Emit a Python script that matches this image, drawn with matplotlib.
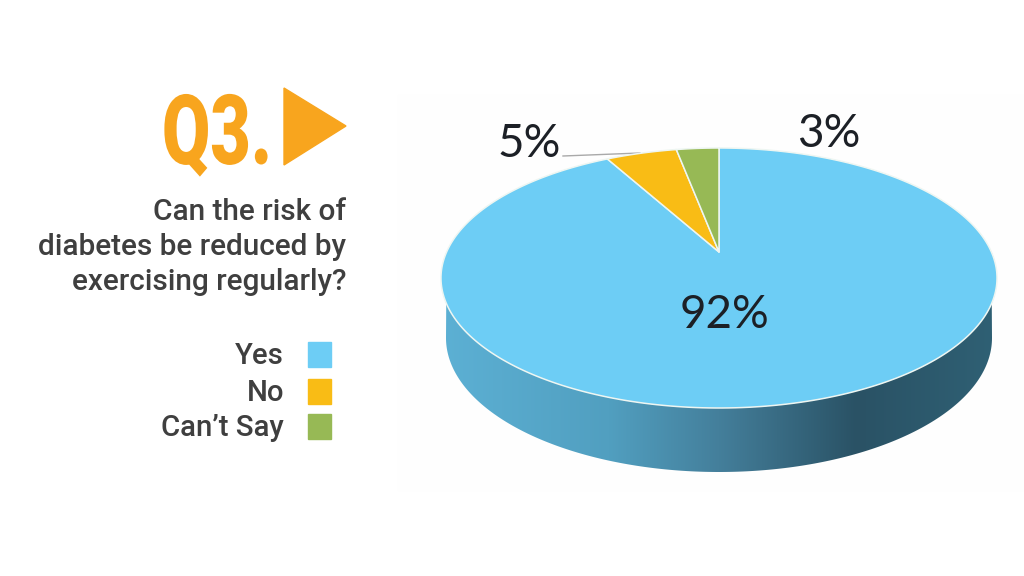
import numpy as np
import matplotlib
matplotlib.use("Agg")
import matplotlib.pyplot as plt
from matplotlib.colors import LinearSegmentedColormap
from matplotlib.patches import Polygon, Rectangle
from matplotlib.patheffects import AbstractPathEffect
from matplotlib.transforms import Affine2D

categories = ["Yes", "No", "Can\u2019t Say"]
values = [92, 5, 3]
value_labels = ["92%", "5%", "3%"]
colors = ["#6dcdf5", "#f9bc15", "#97b955"]
question = "Can the risk of\ndiabetes be reduced by\nexercising regularly?"

# pie geometry in pixels, the tilt makes the far side shorter
APEX = (719, 252)
TILT = 0.2
SCALE_X = 272.4
SCALE_Y = 124.8


def project(theta):
    # theta is clockwise from 12 o'clock
    u, v = np.sin(theta), np.cos(theta)
    w = 1 + TILT * v
    return APEX[0] + SCALE_X * u / w, APEX[1] - SCALE_Y * v / w


class SqueezeX(AbstractPathEffect):
    # no condensed heavy font is installed, so narrow the glyphs when drawing
    def __init__(self, x0, factor):
        super().__init__()
        self.x0 = x0
        self.factor = factor

    def draw_path(self, renderer, gc, tpath, affine, rgbFace=None):
        squeeze = Affine2D().translate(-self.x0, 0).scale(self.factor, 1).translate(self.x0, 0)
        renderer.draw_path(gc, tpath, affine + squeeze, rgbFace)


fig = plt.figure(figsize=(10.24, 5.76), dpi=100)
ax = fig.add_axes([0, 0, 1, 1])
ax.set_xlim(0, 1024)
ax.set_ylim(576, 0)
ax.axis("off")

ax.add_patch(Rectangle((398, 95), 626, 395, color="#fefefe", zorder=0))

# side of the pie, a horizontal gradient clipped to the extruded outline
t = np.linspace(np.pi / 2, 3 * np.pi / 2, 200)
tx, ty = project(t)
bottom_t = np.linspace(np.pi, 0, 200)
bx = 719 + 273 * np.cos(bottom_t)
by = 338 + 134 * np.sin(bottom_t)
outline = np.vstack([np.column_stack([tx, ty]), np.column_stack([bx, by])])
side = Polygon(outline, closed=True, transform=ax.transData, facecolor="none", edgecolor="none")
ax.add_patch(side)
side_cmap = LinearSegmentedColormap.from_list(
    "side",
    [(0.0, "#5cb0d4"), (0.3, "#519fc0"), (0.5, "#447f9b"), (0.75, "#2a5265"), (1.0, "#2f6074")],
)
img = ax.imshow(np.linspace(0, 1, 256)[None, :], cmap=side_cmap, extent=(443, 995, 480, 250),
                aspect="auto", zorder=1)
img.set_clip_path(side)
ax.set_xlim(0, 1024)
ax.set_ylim(576, 0)

# top face, Yes starts at 12 o'clock and runs clockwise
edges = np.cumsum([0] + values) / sum(values) * 2 * np.pi
for i, cat in enumerate(categories):
    th = np.linspace(edges[i], edges[i + 1], 300)
    x, y = project(th)
    ax.fill(np.r_[APEX[0], x], np.r_[APEX[1], y], facecolor=colors[i],
            edgecolor="#eef6f2", linewidth=1.1, zorder=2, joinstyle="round")

# percentage labels
pct_font = dict(family=["Lato", "DejaVu Sans"], color="#1c2026", ha="center", va="center", zorder=4)
ax.text(724, 315, value_labels[0], fontsize=33, **pct_font)
ax.text(529, 144, value_labels[1], fontsize=33, **pct_font)
ax.text(829, 134, value_labels[2], fontsize=33, **pct_font)
ax.plot([563, 640], [156, 153], color="#a9a9a9", linewidth=1, zorder=1.5)

# heading
ax.text(272, 164, "Q3.", family=["Roboto", "DejaVu Sans"], fontweight="black",
        fontsize=70, color="#f8a51e", ha="right", va="baseline",
        path_effects=[SqueezeX(272, 0.72)])
ax.add_patch(Polygon([(284, 88), (346, 126), (284, 165)], color="#f8a51e"))
ax.text(346, 247, question, family=["Roboto", "DejaVu Sans"], fontweight="medium", fontsize=21.4,
        color="#3f3f3f", ha="right", va="center", multialignment="right", linespacing=1.31)

# legend
legend_y = [354, 391, 426]
for name, col, ly in zip(categories, colors, legend_y):
    ax.text(284, ly + 2, name, family=["Roboto", "DejaVu Sans"], fontweight="medium", fontsize=21.2,
            color="#3f3f3f", ha="right", va="center")
    ax.add_patch(Rectangle((308, ly - 12.5), 23, 25, color=col))

fig.savefig("out.png", dpi=100, facecolor="white")
